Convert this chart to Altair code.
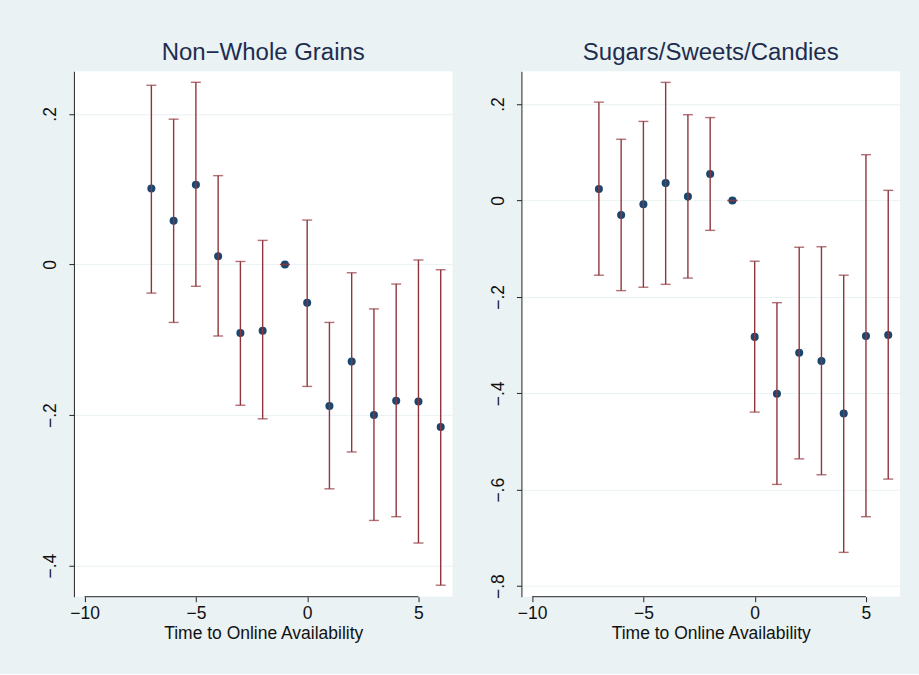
import altair as alt
import pandas as pd

time = [-7, -6, -5, -4, -3, -2, -1, 0, 1, 2, 3, 4, 5, 6]

grains_est = [0.101, 0.058, 0.106, 0.011, -0.091, -0.088, 0.0, -0.051, -0.188, -0.129, -0.200, -0.181, -0.182, -0.216]
grains_lo = [-0.038, -0.077, -0.029, -0.095, -0.187, -0.205, 0.0, -0.162, -0.298, -0.249, -0.340, -0.335, -0.370, -0.426]
grains_hi = [0.238, 0.193, 0.242, 0.118, 0.004, 0.032, 0.0, 0.059, -0.077, -0.011, -0.059, -0.026, 0.006, -0.007]

sweets_est = [0.024, -0.030, -0.008, 0.036, 0.008, 0.055, 0.0, -0.283, -0.401, -0.316, -0.333, -0.442, -0.281, -0.279]
sweets_lo = [-0.155, -0.187, -0.180, -0.174, -0.161, -0.062, 0.0, -0.439, -0.589, -0.536, -0.569, -0.730, -0.656, -0.578]
sweets_hi = [0.204, 0.127, 0.164, 0.245, 0.178, 0.172, 0.0, -0.126, -0.212, -0.097, -0.096, -0.155, 0.095, 0.021]

titles = ["Non\u2212Whole Grains", "Sugars/Sweets/Candies"]
x_title = "Time to Online Availability"
x_ticks = [-10, -5, 0, 5]
x_domain = [-10.48, 6.53]
grains_ticks = [-0.4, -0.2, 0, 0.2]
grains_domain = [-0.4413, 0.2566]
sweets_ticks = [-0.8, -0.6, -0.4, -0.2, 0, 0.2]
sweets_domain = [-0.822, 0.268]
axis_span = [-10, 5]

NAVY = "#1A476F"
MAROON = "#90353B"
FONT = "Liberation Sans"
LFS = 17.5

ylabel_expr = "datum.value == 0 ? '0' : replace(format(datum.value, '.1f'), '0.', '.')"


def panel(title, est, lo, hi, yticks, ydomain, width):
    df = pd.DataFrame({"t": time, "est": est, "lo": lo, "hi": hi})
    span = pd.DataFrame({"a": [axis_span[0]], "b": [axis_span[1]]})
    xs = alt.Scale(domain=x_domain, nice=False, zero=False)
    ys = alt.Scale(domain=ydomain, nice=False, zero=False)
    xax = alt.Axis(values=x_ticks, domain=False, grid=False, tickSize=5, tickColor="#222",
                   labelFont=FONT, labelFontSize=LFS, labelColor="#111", labelPadding=3,
                   titleFont=FONT, titleFontSize=LFS, titleFontWeight="normal", titleColor="#111",
                   titlePadding=2)
    yax = alt.Axis(values=yticks, domain=True, domainColor="#222", grid=True, gridColor="#EAF2F3",
                   gridWidth=1, tickSize=5, tickColor="#222", labelAngle=270, labelAlign="center",
                   labelBaseline="bottom", labelPadding=9, labelFont=FONT, labelFontSize=LFS,
                   labelColor="#111", labelExpr=ylabel_expr, title=None)
    base = alt.Chart(df)
    pts = base.mark_circle(size=65, color=NAVY, opacity=1).encode(
        x=alt.X("t:Q", scale=xs, axis=xax, title=x_title),
        y=alt.Y("est:Q", scale=ys, axis=yax),
    )
    bars = base.mark_rule(color=MAROON, strokeWidth=1.4).encode(
        x="t:Q", y="lo:Q", y2="hi:Q"
    )
    cap_lo = base.mark_tick(color=MAROON, orient="horizontal", size=10, thickness=1.4).encode(
        x="t:Q", y="lo:Q"
    )
    cap_hi = base.mark_tick(color=MAROON, orient="horizontal", size=10, thickness=1.4).encode(
        x="t:Q", y="hi:Q"
    )
    xline = alt.Chart(span).mark_rule(color="#222", strokeWidth=1).encode(
        x="a:Q", x2="b:Q", y=alt.value({"expr": "height"})
    )
    return alt.layer(pts, bars, cap_lo, cap_hi, xline).properties(
        width=width, height=526,
        title=alt.TitleParams(title, font=FONT, fontSize=24, fontWeight="normal",
                              color="#1E2D4F", anchor="middle", offset=6),
    )


left = panel(titles[0], grains_est, grains_lo, grains_hi, grains_ticks, grains_domain, 379)
right = panel(titles[1], sweets_est, sweets_lo, sweets_hi, sweets_ticks, sweets_domain, 379)

chart = alt.hconcat(left, right, spacing=37).properties(
    background="#EAF2F3",
    padding={"left": 42, "top": 41, "right": 19, "bottom": 32},
).configure_view(fill="white", strokeWidth=0)

chart.save("out.html", embed_options={"renderer": "svg", "actions": False})
